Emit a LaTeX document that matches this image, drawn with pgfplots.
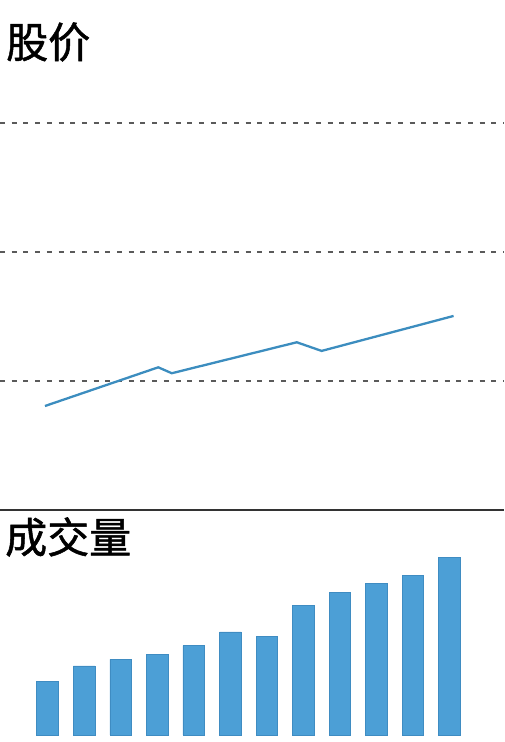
\documentclass[border=0pt]{standalone}
\usepackage{pgfplots}
\pgfplotsset{compat=1.18}
\usepackage{fontspec}
\newfontfamily\cjk[FakeBold=1.2]{Noto Sans CJK SC}
\definecolor{barblue}{HTML}{4C9FD6}
\definecolor{baredge}{HTML}{3F8CC2}
\definecolor{lineblue}{HTML}{3C8DBF}
\definecolor{gridgray}{HTML}{5A5A5A}
\definecolor{sepgray}{HTML}{333333}
\begin{document}
\begin{tikzpicture}[x=1pt,y=1pt]
\useasboundingbox (0pt,0pt) rectangle (504pt,742pt);
\pgfplotsset{
  panel/.style={
    scale only axis, width=504pt,
    xmin=-1.30, xmax=12.49,
    axis line style={draw=none},
    xtick=\empty, yticklabels={}, major tick length=0pt,
    clip=false,
  }
}
% price panel
\begin{axis}[panel, at={(0pt,234pt)}, anchor=south west, height=508pt,
  ymin=0.0155, ymax=3.953, ytick={1,2,3},
  ymajorgrids, grid style={gridgray, line width=1.4pt, dash pattern=on 5pt off 6.7pt}]
\addplot[lineblue, line width=2.3pt] coordinates {
  (-0.07,0.806) (3.03,1.106) (3.40,1.060) (6.82,1.300) (7.50,1.233) (11.11,1.504)};
\end{axis}
\node[anchor=west, inner sep=0pt, font=\cjk\fontsize{42}{42}\selectfont] at (6pt,700pt) {股价};
% volume panel
\begin{axis}[panel, at={(0pt,0pt)}, anchor=south west, height=232pt,
  ymin=-7, ymax=225, ytick=\empty]
\addplot[ybar, bar width=21.5pt, fill=barblue, draw=baredge, line width=0.6pt] coordinates {
  (0,53.3) (1,69) (2,75.7) (3,80.7) (4,89.3) (5,103) (6,98.7) (7,129.7) (8,142.7) (9,151.3) (10,159.3) (11,177.7)};
\draw[sepgray, line width=2pt] (rel axis cs:0,1) -- (rel axis cs:1,1);
\end{axis}
\node[anchor=west, inner sep=0pt, font=\cjk\fontsize{42}{42}\selectfont] at (5pt,205pt) {成交量};
\end{tikzpicture}
\end{document}
